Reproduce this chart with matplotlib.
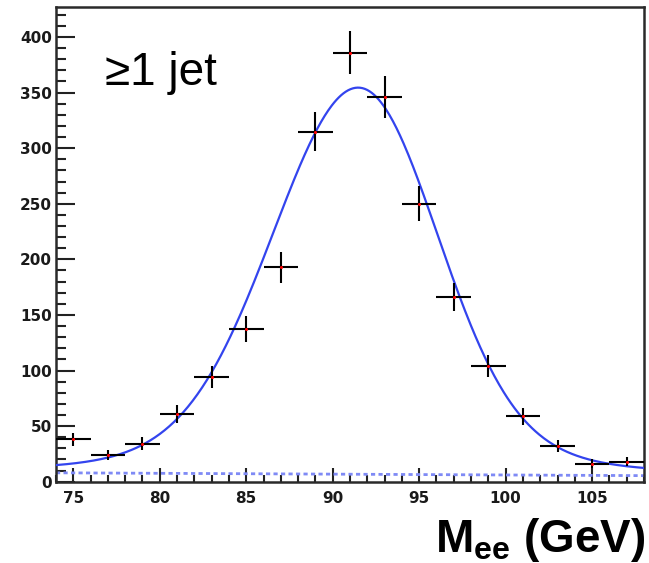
import numpy as np
import matplotlib
matplotlib.use("Agg")
import matplotlib.pyplot as plt
from matplotlib.ticker import MultipleLocator

# di-electron invariant mass, events with at least one jet (2 GeV bins)
bin_centers = [75, 77, 79, 81, 83, 85, 87, 89, 91, 93, 95, 97, 99, 101, 103, 105, 107]
counts = [38, 24, 34, 61, 94, 137, 193, 315, 386, 346, 250, 166, 104, 59, 32, 16, 18]
bin_width = 2.0

# fit: Breit-Wigner (x) bifurcated Gaussian resolution + linear background
z_mass = 91.6
z_width = 2.0
res_left = 4.7
res_right = 4.15
n_signal = 2290
bkg_at_74 = 8.0
bkg_slope = -0.075

x_lo, x_hi = 74, 108
y_hi = 427


def signal_shape(x, m, gamma, sl, sr):
    t = np.arange(-80, 80, 0.02)
    bw = (gamma / 2 / np.pi) / (t ** 2 + (gamma / 2) ** 2)
    u = x[:, None] - m - t[None, :]
    s = np.where(u < 0, sl, sr)
    g = np.exp(-0.5 * (u / s) ** 2) * 2 / (np.sqrt(2 * np.pi) * (sl + sr))
    return (g * bw[None, :]).sum(axis=1) * 0.02


def background(x):
    return bkg_at_74 + bkg_slope * (x - 74)


plt.rcParams['mathtext.fontset'] = 'custom'
plt.rcParams['mathtext.rm'] = 'Liberation Sans'
plt.rcParams['mathtext.bf'] = 'Liberation Sans:bold'

fig = plt.figure(figsize=(6.49, 5.63), dpi=100)
ax = fig.add_axes([56 / 649, 1 - 481.7 / 563, 588 / 649, 474.7 / 563])

xs = np.linspace(x_lo, x_hi, 500)
fit = background(xs) + n_signal * bin_width * signal_shape(xs, z_mass, z_width, res_left, res_right)
ax.plot(xs, background(xs), color='#7f8af5', lw=2.0, ls=(0, (1.5, 1.2)), zorder=2)
ax.plot(xs, fit, color='#3344ee', lw=1.6, zorder=3)

x = np.array(bin_centers, dtype=float)
y = np.array(counts, dtype=float)
ax.errorbar(x, y, xerr=bin_width / 2, yerr=np.sqrt(y), fmt='none',
            ecolor='black', elinewidth=1.5, capsize=0, zorder=4)
ax.plot(x, y, 'o', color='red', ms=2.2, mec='none', zorder=5)

ax.set_xlim(x_lo, x_hi)
ax.set_ylim(0, y_hi)

ax.xaxis.set_major_locator(MultipleLocator(5))
ax.xaxis.set_minor_locator(MultipleLocator(1))
ax.yaxis.set_major_locator(MultipleLocator(50))
ax.yaxis.set_minor_locator(MultipleLocator(10))

ax.tick_params(axis='both', which='both', direction='in', top=False, right=False,
               color='#222222', width=1.5)
ax.tick_params(axis='x', which='major', length=10, pad=7)
ax.tick_params(axis='x', which='minor', length=5)
ax.tick_params(axis='y', which='major', length=13.5, pad=3)
ax.tick_params(axis='y', which='minor', length=7.5)

for lab in ax.get_xticklabels() + ax.get_yticklabels():
    lab.set_fontfamily('DejaVu Sans')
    lab.set_fontweight('bold')
    lab.set_fontsize(11)
    lab.set_color('#1a1a1a')

for side in ['left', 'bottom', 'top', 'right']:
    ax.spines[side].set_linewidth(1.8)
    ax.spines[side].set_color('#2a2a2a')

fig.text(105 / 649, 1 - 85 / 563, '\u22651 jet', fontsize=33,
         family='Liberation Sans', color='black', va='baseline', ha='left')
fig.text(645 / 649, 1 - 551.7 / 563, r'$\mathbf{M_{ee}}$ (GeV)', fontsize=33,
         family='Liberation Sans', fontweight='bold', ha='right', va='baseline')

fig.savefig('out.png', dpi=100)
